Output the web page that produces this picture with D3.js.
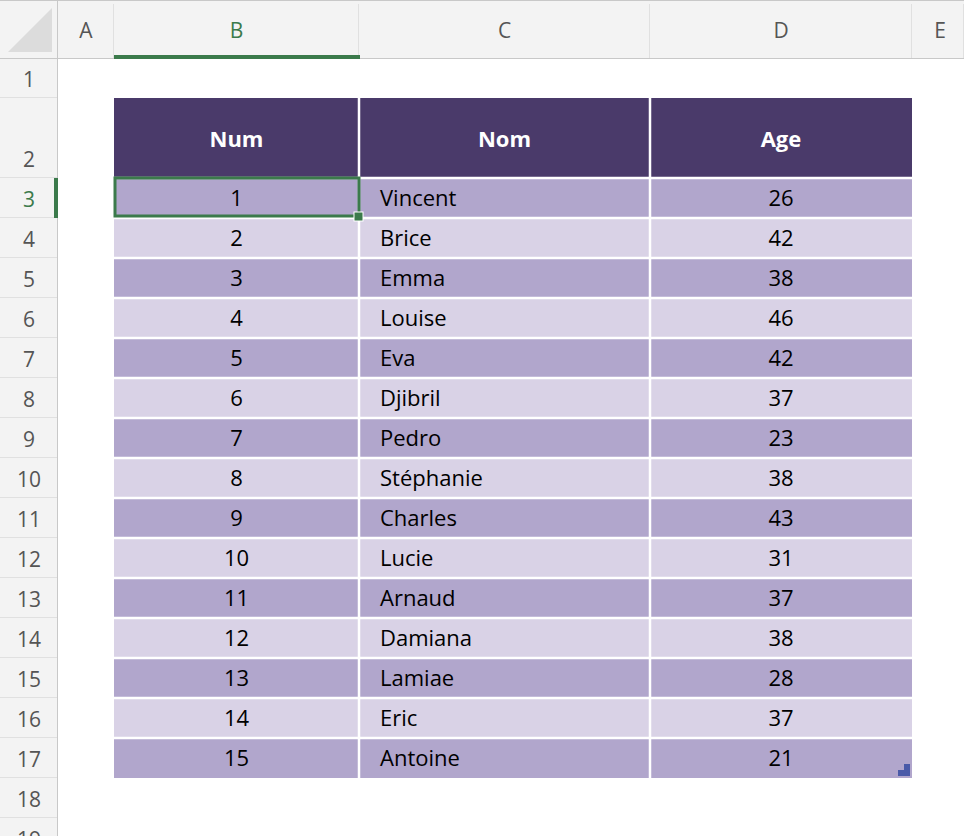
<!DOCTYPE html>
<html><head><meta charset="utf-8">
<script src="https://cdn.jsdelivr.net/npm/d3@7"></script>
<style>body{margin:0;background:#fff}svg{display:block;font-family:"Open Sans",sans-serif}</style>
</head><body><svg id="c" width="964" height="836"></svg>
<script>
const columns = ["Num","Nom","Age"];
const nums = [1,2,3,4,5,6,7,8,9,10,11,12,13,14,15];
const names = ["Vincent","Brice","Emma","Louise","Eva","Djibril","Pedro","Stéphanie","Charles","Lucie","Arnaud","Damiana","Lamiae","Eric","Antoine"];
const ages = [26,42,38,46,42,37,23,38,43,31,37,38,28,37,21];
const colLetters = ["A","B","C","D","E"];
const rowNumbers = d3.range(1,20);

const svg = d3.select("#c");
const colX = [58,114,359,650,912,1000];
const rowY = [59,98,178]; for(let i=0;i<17;i++) rowY.push(rowY[rowY.length-1]+40);
const fg="#000";
// grid background
svg.append("rect").attr("width",964).attr("height",836).attr("fill","#fff");
// column header bar
svg.append("rect").attr("width",964).attr("height",58).attr("fill","#f3f3f3");
svg.append("rect").attr("y",0).attr("width",58).attr("height",836).attr("fill","#f3f3f3");
svg.append("line").attr("x1",0).attr("x2",964).attr("y1",58.5).attr("y2",58.5).attr("stroke","#c8c8c8");
svg.append("line").attr("x1",57.5).attr("x2",57.5).attr("y1",0).attr("y2",836).attr("stroke","#c8c8c8");
svg.append("line").attr("x1",0).attr("x2",964).attr("y1",0.5).attr("y2",0.5).attr("stroke","#c8c8c8");
svg.append("path").attr("d","M8,52 L52,52 L52,8 Z").attr("fill","#dcdcdc");
colLetters.forEach((l,i)=>{
  const x0=colX[i], x1=Math.min(colX[i+1],964);
  svg.append("line").attr("x1",x1-0.5).attr("x2",x1-0.5).attr("y1",4).attr("y2",58).attr("stroke","#e0e0e0");
  svg.append("text").attr("x",(x0+Math.min(colX[i+1],968))/2).attr("y",38).attr("text-anchor","middle")
    .attr("font-size",21).attr("fill",l==="B"?"#3b7a4b":"#555").text(l);
});
svg.append("rect").attr("x",114).attr("y",55).attr("width",246).attr("height",4).attr("fill","#3b7a4b");
rowNumbers.forEach((r,i)=>{
  const y0=rowY[i], y1=rowY[i+1]||y0+40;
  svg.append("line").attr("x1",0).attr("x2",57).attr("y1",y1-0.5).attr("y2",y1-0.5).attr("stroke","#e0e0e0");
  svg.append("text").attr("x",29).attr("y",y1-11).attr("text-anchor","middle").attr("font-size",21)
    .attr("fill",r===3?"#3b7a4b":"#555").text(r);
});
svg.append("rect").attr("x",54).attr("y",178).attr("width",4).attr("height",40).attr("fill","#3b7a4b");

// table
const x = d3.scaleOrdinal().domain(columns).range([114,359,650]);
const w = d3.scaleOrdinal().domain(columns).range([245,291,262]);
const y = d3.scaleBand().domain(nums).range([178,778]);
svg.append("g").selectAll("rect").data(columns).join("rect")
  .attr("x",d=>x(d)).attr("y",98).attr("width",d=>w(d)).attr("height",80).attr("fill","#4a3a6a");
svg.append("g").selectAll("text").data(columns).join("text")
  .attr("x",d=>x(d)+w(d)/2).attr("y",147).attr("text-anchor","middle").attr("font-size",22)
  .attr("font-weight","bold").attr("fill","#fff").text(d=>d);
const rows = nums.map((n,i)=>({n,name:names[i],age:ages[i]}));
const g = svg.append("g").selectAll("g").data(rows).join("g");
columns.forEach(c=>{
  g.append("rect").attr("x",x(c)).attr("y",d=>y(d.n)).attr("width",w(c)).attr("height",y.bandwidth())
   .attr("fill",d=>d.n%2?"#b1a6cc":"#d9d2e6");
});
// white separators
svg.append("g").selectAll("line").data(nums).join("line").attr("x1",114).attr("x2",912)
  .attr("y1",d=>y(d.n===undefined?d:d)).attr("y2",d=>y(d)).attr("stroke","#fff").attr("stroke-width",2.5);
svg.append("g").selectAll("line").data([359,650]).join("line").attr("x1",d=>d).attr("x2",d=>d)
  .attr("y1",98).attr("y2",778).attr("stroke","#fff").attr("stroke-width",2.5);
const ty = d=>y(d.n)+y.bandwidth()/2+8;
g.append("text").attr("x",x("Num")+w("Num")/2).attr("y",ty).attr("text-anchor","middle").attr("font-size",22).attr("fill",fg).text(d=>d.n);
g.append("text").attr("x",380).attr("y",ty).attr("font-size",22).attr("fill",fg).text(d=>d.name);
g.append("text").attr("x",x("Age")+w("Age")/2).attr("y",ty).attr("text-anchor","middle").attr("font-size",22).attr("fill",fg).text(d=>d.age);
// selection
svg.append("rect").attr("x",115).attr("y",178).attr("width",244).attr("height",38).attr("fill","none").attr("stroke","#3b7a4b").attr("stroke-width",3);
svg.append("rect").attr("x",354).attr("y",212).attr("width",9).attr("height",9).attr("fill","#3b7a4b").attr("stroke","#fff");
svg.append("path").attr("d","M898,776 L910,776 L910,764 L904,764 L904,770 L898,770 Z").attr("fill","#4a5aa8");
</script></body></html>
